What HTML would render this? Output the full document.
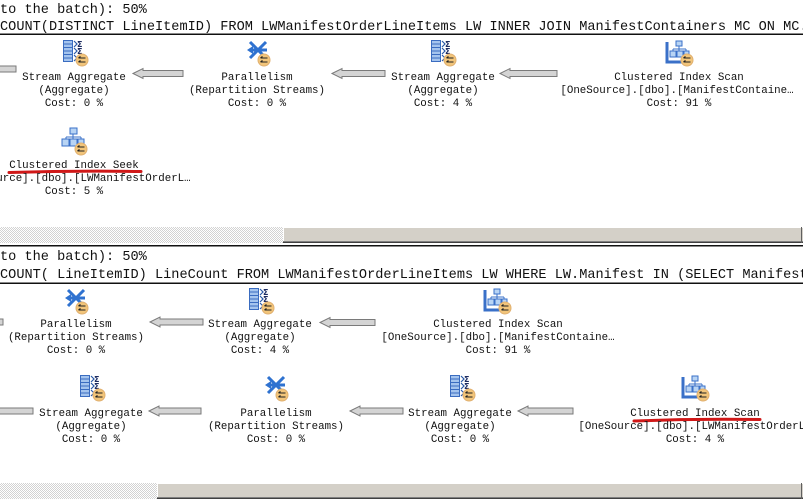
<!DOCTYPE html>
<html><head><meta charset="utf-8"><style>
html,body{margin:0;padding:0;background:#fff;}
svg{display:block;}
text{font-family:"Liberation Mono","DejaVu Sans Mono",monospace;fill:#111;}
.h{font-size:13.6px;}
.n{font-size:10.8px;}
</style></head><body>
<svg width="803" height="499" viewBox="0 0 803 499" xmlns="http://www.w3.org/2000/svg">
<defs>
<pattern id="hatch" width="2" height="2" patternUnits="userSpaceOnUse"><rect width="2" height="2" fill="#fff"/><rect width="1" height="1" fill="#d2d2d2"/><rect x="1" y="1" width="1" height="1" fill="#d2d2d2"/></pattern>
</defs>
<rect width="803" height="499" fill="#fff"/>

<!-- ===== TOP SECTION ===== -->
<text class="h" x="0" y="13">to the batch): 50%</text>
<text class="h" x="0" y="30">COUNT(DISTINCT LineItemID) FROM LWManifestOrderLineItems LW INNER JOIN ManifestContainers MC ON MC.</text>
<rect x="0" y="33.5" width="803" height="1.5" fill="#111"/>

<!-- arrows top row -->
<rect x="-5" y="66" width="21" height="6" fill="#d4d4d4" stroke="#7a7a7a"/>
<path d="M133,73.5 L143,68.5 L143,70.5 L183,70.5 L183,76.5 L143,76.5 L143,78.5 Z" fill="#d4d4d4" stroke="#7a7a7a"/>
<path d="M332,73.5 L342,68.5 L342,70.5 L385,70.5 L385,76.5 L342,76.5 L342,78.5 Z" fill="#d4d4d4" stroke="#7a7a7a"/>
<path d="M500,73.5 L510,68.5 L510,70.5 L557,70.5 L557,76.5 L510,76.5 L510,78.5 Z" fill="#d4d4d4" stroke="#7a7a7a"/>

<!-- Stream Aggregate icon (63,40) -->
<g transform="translate(63,40)">
<rect x="0.5" y="0.5" width="9" height="21" fill="#a4c4ee" stroke="#3a6cc0"/>
<path d="M1,4H9M1,7.5H9M1,11H9M1,14.5H9M1,18H9" stroke="#3a6cc0" stroke-width="1"/>
<path d="M11,1L14,4L11,7M11,8L14,11L11,14M11,15L14,18L11,21" fill="none" stroke="#2a5aa8" stroke-width="1.2"/>
<text x="14" y="7" style="font-size:8px;font-weight:bold;fill:#1a2a60;font-family:'DejaVu Sans',sans-serif">Σ</text>
<text x="14" y="14" style="font-size:8px;font-weight:bold;fill:#1a2a60;font-family:'DejaVu Sans',sans-serif">Σ</text>
<circle cx="19" cy="20" r="6" fill="#f2c57a" stroke="#e0b070"/>
<path d="M15.5,18H22.5M15.5,22H22.5M15.5,18L17.5,16.5M15.5,22L17.5,20.5" stroke="#222" stroke-width="1.1" fill="none"/>
</g>
<text class="n" x="74" y="80" text-anchor="middle">Stream Aggregate</text>
<text class="n" x="74" y="93" text-anchor="middle">(Aggregate)</text>
<text class="n" x="74" y="106" text-anchor="middle">Cost: 0 %</text>

<!-- Parallelism icon (247,40) -->
<g transform="translate(247,40)">
<path d="M3,2L19,18M19,2L3,18" stroke="#2f72d0" stroke-width="3" fill="none"/>
<path d="M2,10H20" stroke="#2f72d0" stroke-width="3"/>
<path d="M0,10L6,6L6,14Z" fill="#2f72d0"/>
<circle cx="17" cy="20" r="6" fill="#f2c57a" stroke="#e0b070"/>
<path d="M13.5,18H20.5M13.5,22H20.5M13.5,18L15.5,16.5M13.5,22L15.5,20.5" stroke="#222" stroke-width="1.1" fill="none"/>
</g>
<text class="n" x="257" y="80" text-anchor="middle">Parallelism</text>
<text class="n" x="257" y="93" text-anchor="middle">(Repartition Streams)</text>
<text class="n" x="257" y="106" text-anchor="middle">Cost: 0 %</text>

<!-- Stream Aggregate icon (431,40) -->
<g transform="translate(431,40)">
<rect x="0.5" y="0.5" width="9" height="21" fill="#a4c4ee" stroke="#3a6cc0"/>
<path d="M1,4H9M1,7.5H9M1,11H9M1,14.5H9M1,18H9" stroke="#3a6cc0" stroke-width="1"/>
<path d="M11,1L14,4L11,7M11,8L14,11L11,14M11,15L14,18L11,21" fill="none" stroke="#2a5aa8" stroke-width="1.2"/>
<text x="14" y="7" style="font-size:8px;font-weight:bold;fill:#1a2a60;font-family:'DejaVu Sans',sans-serif">Σ</text>
<text x="14" y="14" style="font-size:8px;font-weight:bold;fill:#1a2a60;font-family:'DejaVu Sans',sans-serif">Σ</text>
<circle cx="19" cy="20" r="6" fill="#f2c57a" stroke="#e0b070"/>
<path d="M15.5,18H22.5M15.5,22H22.5M15.5,18L17.5,16.5M15.5,22L17.5,20.5" stroke="#222" stroke-width="1.1" fill="none"/>
</g>
<text class="n" x="443" y="80" text-anchor="middle">Stream Aggregate</text>
<text class="n" x="443" y="93" text-anchor="middle">(Aggregate)</text>
<text class="n" x="443" y="106" text-anchor="middle">Cost: 4 %</text>

<!-- Clustered Index Scan icon (667,40) -->
<g transform="translate(667,40)">
<path d="M0,2V22H22" stroke="#3a70c8" stroke-width="3" fill="none"/>
<rect x="9" y="1" width="6" height="5" fill="#b8d4f4" stroke="#3a70c8"/>
<path d="M12,6V9M6,9H19M6,9V11M12,9V11M19,9V11" stroke="#3a70c8" fill="none"/>
<rect x="3" y="11" width="6" height="6" fill="#b8d4f4" stroke="#3a70c8"/>
<rect x="10" y="11" width="6" height="6" fill="#b8d4f4" stroke="#3a70c8"/>
<rect x="17" y="11" width="5" height="6" fill="#b8d4f4" stroke="#3a70c8"/>
<circle cx="20" cy="20" r="6" fill="#f2c57a" stroke="#e0b070"/>
<path d="M16.5,18H23.5M16.5,22H23.5M16.5,18L18.5,16.5M16.5,22L18.5,20.5" stroke="#222" stroke-width="1.1" fill="none"/>
</g>
<text class="n" x="679" y="80" text-anchor="middle">Clustered Index Scan</text>
<text class="n" x="677" y="93" text-anchor="middle">[OneSource].[dbo].[ManifestContaine…</text>
<text class="n" x="679" y="106" text-anchor="middle">Cost: 91 %</text>

<!-- Clustered Index Seek (61,127) -->
<g transform="translate(61,127)">
<rect x="9" y="1" width="7" height="6" fill="#b8d4f4" stroke="#3a70c8"/>
<path d="M12,7V10M5,10H20M5,10V12M12,10V12M20,10V12" stroke="#3a70c8" fill="none"/>
<rect x="1" y="12" width="7" height="7" fill="#b8d4f4" stroke="#3a70c8"/>
<rect x="9" y="12" width="7" height="7" fill="#b8d4f4" stroke="#3a70c8"/>
<rect x="17" y="12" width="6" height="7" fill="#b8d4f4" stroke="#3a70c8"/>
<circle cx="20" cy="22" r="6" fill="#f2c57a" stroke="#e0b070"/>
<path d="M16.5,20H23.5M16.5,24H23.5M16.5,20L18.5,18.5M16.5,24L18.5,22.5" stroke="#222" stroke-width="1.1" fill="none"/>
</g>
<text class="n" x="74" y="168" text-anchor="middle">Clustered Index Seek</text>
<path d="M9,172.5 Q75,170.5 141,171.5" stroke="#d01818" stroke-width="3" fill="none" stroke-linecap="round"/>
<text class="n" x="74" y="181" text-anchor="middle">[OneSource].[dbo].[LWManifestOrderL…</text>
<text class="n" x="74" y="194" text-anchor="middle">Cost: 5 %</text>

<!-- top scrollbar -->
<rect x="0" y="227" width="283" height="16" fill="url(#hatch)"/>
<rect x="283" y="227" width="520" height="16" fill="#d4d0c8"/>
<rect x="283" y="227" width="520" height="1" fill="#fff"/>
<rect x="283" y="227" width="1" height="16" fill="#fff"/>
<rect x="283" y="241" width="520" height="1" fill="#808080"/>
<rect x="283" y="242" width="520" height="1" fill="#404040"/>
<rect x="801" y="227" width="1" height="16" fill="#606060"/>
<rect x="0" y="245" width="803" height="1.5" fill="#111"/>

<!-- ===== BOTTOM SECTION ===== -->
<text class="h" x="0" y="260">to the batch): 50%</text>
<text class="h" x="0" y="278">COUNT( LineItemID) LineCount FROM LWManifestOrderLineItems LW WHERE LW.Manifest IN (SELECT Manifest</text>
<rect x="0" y="282.5" width="803" height="1.5" fill="#111"/>

<!-- row 1 arrows -->
<rect x="-5" y="319" width="8" height="6" fill="#d4d4d4" stroke="#7a7a7a"/>
<path d="M150,322 L160,317 L160,319 L203,319 L203,325 L160,325 L160,327 Z" fill="#d4d4d4" stroke="#7a7a7a"/>
<path d="M320,322.5 L330,317.5 L330,319.5 L375,319.5 L375,325.5 L330,325.5 L330,327.5 Z" fill="#d4d4d4" stroke="#7a7a7a"/>

<!-- Parallelism (65,288) -->
<g transform="translate(65,288)">
<path d="M3,2L19,18M19,2L3,18" stroke="#2f72d0" stroke-width="3" fill="none"/>
<path d="M2,10H20" stroke="#2f72d0" stroke-width="3"/>
<path d="M0,10L6,6L6,14Z" fill="#2f72d0"/>
<circle cx="17" cy="20" r="6" fill="#f2c57a" stroke="#e0b070"/>
<path d="M13.5,18H20.5M13.5,22H20.5M13.5,18L15.5,16.5M13.5,22L15.5,20.5" stroke="#222" stroke-width="1.1" fill="none"/>
</g>
<text class="n" x="76" y="327" text-anchor="middle">Parallelism</text>
<text class="n" x="76" y="340" text-anchor="middle">(Repartition Streams)</text>
<text class="n" x="76" y="353" text-anchor="middle">Cost: 0 %</text>

<!-- Stream Aggregate (249,288) -->
<g transform="translate(249,288)">
<rect x="0.5" y="0.5" width="9" height="21" fill="#a4c4ee" stroke="#3a6cc0"/>
<path d="M1,4H9M1,7.5H9M1,11H9M1,14.5H9M1,18H9" stroke="#3a6cc0" stroke-width="1"/>
<path d="M11,1L14,4L11,7M11,8L14,11L11,14M11,15L14,18L11,21" fill="none" stroke="#2a5aa8" stroke-width="1.2"/>
<text x="14" y="7" style="font-size:8px;font-weight:bold;fill:#1a2a60;font-family:'DejaVu Sans',sans-serif">Σ</text>
<text x="14" y="14" style="font-size:8px;font-weight:bold;fill:#1a2a60;font-family:'DejaVu Sans',sans-serif">Σ</text>
<circle cx="19" cy="20" r="6" fill="#f2c57a" stroke="#e0b070"/>
<path d="M15.5,18H22.5M15.5,22H22.5M15.5,18L17.5,16.5M15.5,22L17.5,20.5" stroke="#222" stroke-width="1.1" fill="none"/>
</g>
<text class="n" x="260" y="327" text-anchor="middle">Stream Aggregate</text>
<text class="n" x="260" y="340" text-anchor="middle">(Aggregate)</text>
<text class="n" x="260" y="353" text-anchor="middle">Cost: 4 %</text>

<!-- Clustered Index Scan (485,288) -->
<g transform="translate(485,288)">
<path d="M0,2V22H22" stroke="#3a70c8" stroke-width="3" fill="none"/>
<rect x="9" y="1" width="6" height="5" fill="#b8d4f4" stroke="#3a70c8"/>
<path d="M12,6V9M6,9H19M6,9V11M12,9V11M19,9V11" stroke="#3a70c8" fill="none"/>
<rect x="3" y="11" width="6" height="6" fill="#b8d4f4" stroke="#3a70c8"/>
<rect x="10" y="11" width="6" height="6" fill="#b8d4f4" stroke="#3a70c8"/>
<rect x="17" y="11" width="5" height="6" fill="#b8d4f4" stroke="#3a70c8"/>
<circle cx="20" cy="20" r="6" fill="#f2c57a" stroke="#e0b070"/>
<path d="M16.5,18H23.5M16.5,22H23.5M16.5,18L18.5,16.5M16.5,22L18.5,20.5" stroke="#222" stroke-width="1.1" fill="none"/>
</g>
<text class="n" x="498" y="327" text-anchor="middle">Clustered Index Scan</text>
<text class="n" x="498" y="340" text-anchor="middle">[OneSource].[dbo].[ManifestContaine…</text>
<text class="n" x="498" y="353" text-anchor="middle">Cost: 91 %</text>

<!-- row 2 arrows -->
<rect x="-5" y="408" width="38" height="6" fill="#d4d4d4" stroke="#7a7a7a"/>
<path d="M149,411 L159,406 L159,408 L201,408 L201,414 L159,414 L159,416 Z" fill="#d4d4d4" stroke="#7a7a7a"/>
<path d="M350,411 L360,406 L360,408 L403,408 L403,414 L360,414 L360,416 Z" fill="#d4d4d4" stroke="#7a7a7a"/>
<path d="M518,411 L528,406 L528,408 L573,408 L573,414 L528,414 L528,416 Z" fill="#d4d4d4" stroke="#7a7a7a"/>

<!-- Stream Aggregate (80,375) -->
<g transform="translate(80,375)">
<rect x="0.5" y="0.5" width="9" height="21" fill="#a4c4ee" stroke="#3a6cc0"/>
<path d="M1,4H9M1,7.5H9M1,11H9M1,14.5H9M1,18H9" stroke="#3a6cc0" stroke-width="1"/>
<path d="M11,1L14,4L11,7M11,8L14,11L11,14M11,15L14,18L11,21" fill="none" stroke="#2a5aa8" stroke-width="1.2"/>
<text x="14" y="7" style="font-size:8px;font-weight:bold;fill:#1a2a60;font-family:'DejaVu Sans',sans-serif">Σ</text>
<text x="14" y="14" style="font-size:8px;font-weight:bold;fill:#1a2a60;font-family:'DejaVu Sans',sans-serif">Σ</text>
<circle cx="19" cy="20" r="6" fill="#f2c57a" stroke="#e0b070"/>
<path d="M15.5,18H22.5M15.5,22H22.5M15.5,18L17.5,16.5M15.5,22L17.5,20.5" stroke="#222" stroke-width="1.1" fill="none"/>
</g>
<text class="n" x="91" y="416" text-anchor="middle">Stream Aggregate</text>
<text class="n" x="91" y="429" text-anchor="middle">(Aggregate)</text>
<text class="n" x="91" y="442" text-anchor="middle">Cost: 0 %</text>

<!-- Parallelism (265,375) -->
<g transform="translate(265,375)">
<path d="M3,2L19,18M19,2L3,18" stroke="#2f72d0" stroke-width="3" fill="none"/>
<path d="M2,10H20" stroke="#2f72d0" stroke-width="3"/>
<path d="M0,10L6,6L6,14Z" fill="#2f72d0"/>
<circle cx="17" cy="20" r="6" fill="#f2c57a" stroke="#e0b070"/>
<path d="M13.5,18H20.5M13.5,22H20.5M13.5,18L15.5,16.5M13.5,22L15.5,20.5" stroke="#222" stroke-width="1.1" fill="none"/>
</g>
<text class="n" x="276" y="416" text-anchor="middle">Parallelism</text>
<text class="n" x="276" y="429" text-anchor="middle">(Repartition Streams)</text>
<text class="n" x="276" y="442" text-anchor="middle">Cost: 0 %</text>

<!-- Stream Aggregate (450,375) -->
<g transform="translate(450,375)">
<rect x="0.5" y="0.5" width="9" height="21" fill="#a4c4ee" stroke="#3a6cc0"/>
<path d="M1,4H9M1,7.5H9M1,11H9M1,14.5H9M1,18H9" stroke="#3a6cc0" stroke-width="1"/>
<path d="M11,1L14,4L11,7M11,8L14,11L11,14M11,15L14,18L11,21" fill="none" stroke="#2a5aa8" stroke-width="1.2"/>
<text x="14" y="7" style="font-size:8px;font-weight:bold;fill:#1a2a60;font-family:'DejaVu Sans',sans-serif">Σ</text>
<text x="14" y="14" style="font-size:8px;font-weight:bold;fill:#1a2a60;font-family:'DejaVu Sans',sans-serif">Σ</text>
<circle cx="19" cy="20" r="6" fill="#f2c57a" stroke="#e0b070"/>
<path d="M15.5,18H22.5M15.5,22H22.5M15.5,18L17.5,16.5M15.5,22L17.5,20.5" stroke="#222" stroke-width="1.1" fill="none"/>
</g>
<text class="n" x="460" y="416" text-anchor="middle">Stream Aggregate</text>
<text class="n" x="460" y="429" text-anchor="middle">(Aggregate)</text>
<text class="n" x="460" y="442" text-anchor="middle">Cost: 0 %</text>

<!-- Clustered Index Scan (683,375) -->
<g transform="translate(683,375)">
<path d="M0,2V22H22" stroke="#3a70c8" stroke-width="3" fill="none"/>
<rect x="9" y="1" width="6" height="5" fill="#b8d4f4" stroke="#3a70c8"/>
<path d="M12,6V9M6,9H19M6,9V11M12,9V11M19,9V11" stroke="#3a70c8" fill="none"/>
<rect x="3" y="11" width="6" height="6" fill="#b8d4f4" stroke="#3a70c8"/>
<rect x="10" y="11" width="6" height="6" fill="#b8d4f4" stroke="#3a70c8"/>
<rect x="17" y="11" width="5" height="6" fill="#b8d4f4" stroke="#3a70c8"/>
<circle cx="20" cy="20" r="6" fill="#f2c57a" stroke="#e0b070"/>
<path d="M16.5,18H23.5M16.5,22H23.5M16.5,18L18.5,16.5M16.5,22L18.5,20.5" stroke="#222" stroke-width="1.1" fill="none"/>
</g>
<text class="n" x="695" y="416" text-anchor="middle">Clustered Index Scan</text>
<path d="M634,421 Q697,418.5 760,419.5" stroke="#d01818" stroke-width="3" fill="none" stroke-linecap="round"/>
<text class="n" x="695" y="429" text-anchor="middle">[OneSource].[dbo].[LWManifestOrderL…</text>
<text class="n" x="695" y="442" text-anchor="middle">Cost: 4 %</text>

<!-- bottom scrollbar -->
<rect x="0" y="483" width="157" height="16" fill="url(#hatch)"/>
<rect x="157" y="483" width="646" height="16" fill="#d4d0c8"/>
<rect x="157" y="483" width="646" height="1" fill="#fff"/>
<rect x="157" y="483" width="1" height="16" fill="#fff"/>
<rect x="157" y="497" width="646" height="1" fill="#808080"/>
<rect x="157" y="498" width="646" height="1" fill="#404040"/>
<rect x="801" y="483" width="1" height="16" fill="#606060"/>
</svg>
</body></html>
